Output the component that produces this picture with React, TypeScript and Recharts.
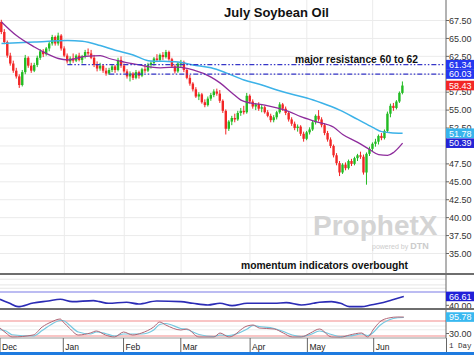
import React from "react";
import { ComposedChart, Bar, Line, XAxis, YAxis, CartesianGrid, ReferenceLine } from "recharts";

// daily candles, [open, high, low, close], one array per month
const decBars: number[][] = [
  [67.3, 67.6, 65.6, 65.9], [65.9, 66.3, 64.2, 64.5], [64.5, 64.7, 62.3, 62.6], [62.6, 63.0, 61.2, 61.5],
  [61.5, 61.9, 60.2, 60.5], [60.5, 60.9, 59.4, 59.7], [59.7, 60.0, 58.1, 58.5], [58.5, 60.6, 58.3, 60.3],
  [60.3, 62.7, 60.0, 62.3], [62.3, 62.5, 60.9, 61.2], [61.2, 61.6, 60.2, 60.5], [60.5, 61.6, 60.3, 61.3],
  [61.3, 62.6, 61.0, 62.3], [62.3, 63.5, 62.0, 63.2], [63.2, 63.5, 62.4, 62.8], [62.8, 63.8, 62.6, 63.6],
  [63.6, 64.6, 63.2, 64.3], [64.3, 65.5, 64.0, 65.2], [65.2, 65.4, 64.0, 64.3], [64.3, 65.8, 64.0, 65.4],
  [65.4, 65.6, 63.3, 63.6],
];
const janBars: number[][] = [
  [63.6, 63.9, 62.4, 62.6], [62.6, 62.9, 61.5, 61.8], [61.8, 62.5, 61.3, 62.2], [62.2, 62.9, 61.6, 61.9],
  [61.9, 62.8, 61.7, 62.6], [62.6, 63.0, 61.8, 62.0], [62.0, 62.7, 61.5, 62.5], [62.5, 63.4, 62.2, 63.1],
  [63.1, 63.6, 62.6, 62.9], [62.9, 63.4, 62.1, 62.3], [62.3, 62.7, 61.0, 61.3], [61.3, 61.8, 60.4, 60.8],
  [60.8, 61.6, 60.5, 61.2], [61.2, 61.4, 60.2, 60.5], [60.5, 60.9, 59.8, 60.1], [60.1, 60.9, 59.9, 60.6],
  [60.6, 61.4, 60.3, 61.1], [61.1, 61.3, 60.2, 60.6], [60.6, 62.3, 60.4, 62.0], [62.0, 62.5, 60.9, 61.2],
];
const febBars: number[][] = [
  [61.2, 61.5, 60.2, 60.4], [60.4, 60.7, 59.4, 59.7], [59.7, 60.4, 59.0, 60.1], [60.1, 60.3, 59.2, 59.5],
  [59.5, 60.6, 59.3, 60.3], [60.3, 60.5, 59.4, 59.8], [59.8, 60.9, 59.6, 60.7], [60.7, 61.3, 60.2, 60.5],
  [60.5, 61.6, 60.3, 61.3], [61.3, 61.8, 60.8, 61.6], [61.6, 62.4, 61.2, 62.2], [62.2, 62.8, 61.7, 62.0],
  [62.0, 62.9, 61.8, 62.7], [62.7, 63.1, 62.0, 62.4], [62.4, 63.4, 62.2, 63.1], [63.1, 63.3, 61.9, 62.1],
  [62.1, 62.3, 60.9, 61.1], [61.1, 61.4, 60.1, 60.4], [60.4, 61.7, 60.2, 61.5],
];
const marBars: number[][] = [
  [61.5, 62.0, 61.0, 61.7], [61.7, 61.9, 60.3, 60.6], [60.6, 60.8, 59.3, 59.5], [59.5, 59.9, 58.4, 58.7],
  [58.7, 58.9, 57.6, 57.9], [57.9, 58.2, 56.7, 56.9], [56.9, 57.5, 56.4, 57.2], [57.2, 57.4, 55.9, 56.1],
  [56.1, 56.5, 55.4, 55.7], [55.7, 56.9, 55.5, 56.6], [56.6, 57.4, 56.3, 57.1], [57.1, 57.9, 56.8, 57.6],
  [57.6, 58.0, 57.0, 57.3], [57.3, 57.8, 56.0, 56.3], [56.3, 56.5, 54.6, 54.9], [54.9, 55.1, 51.6, 52.4],
  [52.4, 53.6, 52.1, 53.4], [53.4, 54.2, 52.9, 53.9], [53.9, 54.5, 53.3, 53.7], [53.7, 54.9, 53.5, 54.6],
  [54.6, 55.3, 54.2, 54.9], [54.9, 55.6, 54.4, 54.7], [54.7, 57.4, 54.5, 57.0],
];
const aprBars: number[][] = [
  [57.0, 57.2, 55.9, 56.2], [56.2, 56.5, 55.2, 55.5], [55.5, 56.0, 55.0, 55.8], [55.8, 56.1, 54.9, 55.2],
  [55.2, 55.7, 54.7, 55.4], [55.4, 55.6, 54.5, 54.7], [54.7, 55.0, 54.0, 54.2], [54.2, 54.5, 53.3, 53.6],
  [53.6, 54.3, 53.3, 54.0], [54.0, 54.9, 53.7, 54.7], [54.7, 56.1, 54.5, 55.8], [55.8, 56.0, 54.9, 55.2],
  [55.2, 55.5, 54.3, 54.6], [54.6, 54.8, 53.4, 53.7], [53.7, 54.0, 52.8, 53.1], [53.1, 53.4, 52.2, 52.5],
  [52.5, 53.0, 52.0, 52.7], [52.7, 52.9, 51.4, 51.7], [51.7, 52.0, 50.6, 51.0],
];
const mayBars: number[][] = [
  [51.0, 52.1, 50.8, 51.9], [51.9, 52.6, 51.6, 52.3], [52.3, 53.5, 52.1, 53.3], [53.3, 54.4, 53.0, 54.2],
  [54.2, 55.0, 53.4, 53.7], [53.7, 54.0, 52.6, 52.9], [52.9, 53.2, 51.5, 51.8], [51.8, 52.1, 50.6, 50.9],
  [50.9, 51.2, 49.7, 50.0], [50.0, 50.2, 48.4, 48.7], [48.7, 49.0, 47.3, 47.6], [47.6, 47.9, 45.8, 46.3],
  [46.3, 47.6, 46.1, 47.4], [47.4, 47.7, 46.6, 46.9], [46.9, 48.1, 46.7, 47.9], [47.9, 48.2, 47.2, 47.5],
  [47.5, 48.5, 47.3, 48.3], [48.3, 48.9, 47.9, 48.7], [48.7, 49.2, 48.2, 48.5], [48.5, 48.8, 46.0, 46.3],
  [46.3, 49.1, 44.6, 48.9], [48.9, 49.9, 48.6, 49.6],
];
const junBars: number[][] = [
  [49.6, 50.5, 49.2, 50.3], [50.3, 51.0, 49.9, 50.6], [50.6, 51.6, 50.2, 51.4], [51.4, 51.8, 50.8, 51.1],
  [51.1, 52.3, 50.9, 52.1], [52.1, 54.8, 51.9, 54.5], [54.5, 55.9, 54.0, 55.6], [55.6, 56.0, 54.9, 55.3],
  [55.3, 56.4, 55.1, 56.2], [56.2, 57.6, 56.0, 57.4], [57.4, 59.0, 57.2, 58.43],
];

// moving averages, [day, value]
const maFast: number[][] = [
  [-1, 67.3], [4, 65.4], [10, 63.8], [14, 62.9], [18, 62.2], [21, 62.0], [27, 62.5], [32, 62.6],
  [35, 62.2], [40, 61.7], [45, 61.3], [49, 61.0], [52, 60.9], [58, 61.0], [63, 60.6], [69, 59.6],
  [72, 58.8], [76, 57.4], [79, 56.4], [82, 56.0], [87, 55.7], [91, 55.3], [95, 54.8], [99, 54.1],
  [104, 53.4], [110, 52.6], [113, 51.6], [118, 50.5], [122, 49.5], [125, 48.8], [128, 48.7],
  [130, 49.1], [133, 50.39],
];
const maSlow: number[][] = [
  [-1, 64.3], [10, 64.5], [21, 64.7], [26, 64.6], [32, 64.0], [37, 63.35], [43, 62.7], [48, 61.9],
  [58, 61.7], [63, 61.3], [69, 60.9], [74, 60.2], [80, 59.2], [86, 58.5], [91, 57.8], [97, 57.1],
  [101, 56.7], [106, 56.0], [112, 55.0], [118, 53.7], [123, 52.6], [126, 52.0], [129, 51.85], [133, 51.78],
];

// momentum panel
const rsiPts: number[][] = [
  [-1, 58], [2, 47], [5, 36], [10, 47], [15, 53], [19, 58], [23, 51], [30, 54], [32, 51], [35, 46],
  [41, 49], [45, 44], [51, 53], [59, 51], [63, 46], [68, 41], [72, 46], [76, 39], [81, 46], [85, 46],
  [90, 46], [94, 48], [99, 41], [103, 46], [105, 49], [109, 51], [112, 46], [115, 36], [119, 36],
  [122, 41], [125, 46], [129, 56], [133, 66.61],
];
// stochastics panel
const stochK: number[][] = [
  [-1, 52], [1, 32], [3, 16], [10, 24], [13, 56], [16, 76], [19, 88], [20, 76], [22, 52], [25, 24],
  [29, 32], [31, 40], [34, 24], [37, 16], [40, 36], [43, 24], [46, 32], [50, 56], [52, 76], [54, 64],
  [59, 44], [61, 48], [65, 16], [70, 16], [72, 32], [75, 16], [81, 60], [83, 64], [85, 52], [90, 48],
  [93, 32], [96, 16], [99, 16], [102, 32], [105, 48], [109, 16], [112, 15], [115, 24], [119, 32],
  [121, 16], [123, 48], [125, 76], [128, 92], [131, 96], [133, 95.78],
];
const stochD: number[][] = [
  [-1, 45], [1, 40], [3, 25], [10, 20], [13, 42], [16, 66], [19, 82], [20, 82], [22, 64], [25, 36],
  [29, 28], [31, 36], [34, 30], [37, 20], [40, 28], [43, 28], [46, 28], [50, 44], [52, 66], [54, 70],
  [59, 50], [61, 46], [65, 26], [70, 18], [72, 24], [75, 22], [81, 48], [83, 62], [85, 58], [90, 50],
  [93, 38], [96, 24], [99, 18], [102, 26], [105, 40], [109, 26], [112, 18], [115, 20], [119, 28],
  [121, 22], [123, 36], [125, 62], [128, 84], [131, 93], [133, 94],
];

const monthNames = ["Dec", "Jan", "Feb", "Mar", "Apr", "May", "Jun"];
const monthStart = [-1, 20, 40, 59, 82, 101, 123];

const gridTicks = [35, 37.5, 40, 42.5, 45, 47.5, 50, 52.5, 55, 57.5, 60, 62.5, 65, 67.5];
// 50.00 and 60.00 sit fully under the value badges
const priceTicks = [35, 37.5, 40, 42.5, 45, 47.5, 52.5, 55, 57.5, 62.5, 65, 67.5];
const priceBadges = [61.34, 60.03, 58.43, 51.78, 50.39];
const resistance = [61.34, 60.03];
const resistanceFrom = [21, 35];

const FIRST = -1;
const LAST_SLOT = 147;

// styles
const FONT = "'Liberation Sans', Arial, sans-serif";
const UP = "#22bb22";
const DOWN = "#f22626";
const GRID = "#ebebeb";
const badgeColors = ["#2438f0", "#2438f0", "#f22626", "#38b4ec", "#2424d6"];

const allBars = [...decBars, ...janBars, ...febBars, ...marBars, ...aprBars, ...mayBars, ...junBars];
const slots: number[] = [];
for (let d = FIRST; d <= LAST_SLOT; d++) slots.push(d);

const priceData: any[] = slots.map((d) => {
  const row: any = { d };
  const b = allBars[d - FIRST];
  if (b) {
    row.o = b[0];
    row.h = b[1];
    row.l = b[2];
    row.c = b[3];
    row.range = [b[2], b[1]];
  }
  return row;
});
maFast.forEach(([d, v]) => (priceData[d - FIRST].fast = v));
maSlow.forEach(([d, v]) => (priceData[d - FIRST].slow = v));

const subData: any[] = slots.map((d) => ({ d }));
rsiPts.forEach(([d, v]) => (subData[d - FIRST].rsi = v));
stochK.forEach(([d, v]) => (subData[d - FIRST].k = v));
stochD.forEach(([d, v]) => (subData[d - FIRST].sd = v));

const Candle = (props: any) => {
  const { x, y, width, height, payload } = props;
  if (!payload || payload.h == null) return null;
  const top = Math.min(y, y + height);
  const hh = Math.abs(height);
  const ppu = hh / (payload.h - payload.l || 1);
  const cx = x + width / 2;
  const yo = top + (payload.h - payload.o) * ppu;
  const yc = top + (payload.h - payload.c) * ppu;
  const col = payload.c >= payload.o ? UP : DOWN;
  return (
    <g>
      <line x1={cx} x2={cx} y1={top} y2={top + hh} stroke={col} strokeWidth={1} />
      <rect x={cx - 1.2} y={Math.min(yo, yc)} width={2.4} height={Math.max(1, Math.abs(yc - yo))} fill={col} />
    </g>
  );
};

const noDot = () => <g />;

const makeTick = (badges: number[], colors: string[]) => (props: any) => {
  const { x, y, payload } = props;
  const v = payload.value;
  const k = badges.indexOf(v);
  if (k >= 0) {
    return (
      <g>
        <rect x={x - 3} y={y - 4.8} width={29} height={9.6} fill={colors[k]} />
        <text x={x} y={y + 3.3} fill="#fff" fontSize={9} fontFamily={FONT}>{v.toFixed(2)}</text>
      </g>
    );
  }
  return (
    <text x={x} y={y + 3.3} fill="#333" fontSize={9} fontFamily={FONT}>{v.toFixed(2)}</text>
  );
};

const PriceTick = makeTick(priceBadges, badgeColors);
const RsiTick = makeTick([66.61], ["#2020d8"]);
const StochTick = makeTick([95.78], ["#38b8f0"]);

const MonthTick = (props: any) => {
  const { x, y, payload } = props;
  const i = monthStart.indexOf(payload.value);
  return (
    <g>
      <line x1={x} x2={x} y1={y} y2={y + 14} stroke="#666" strokeWidth={1} />
      <text x={x + 2} y={y + 11.5} fill="#222" fontSize={8.5} fontFamily={FONT}>{monthNames[i]}</text>
    </g>
  );
};

const App = () => {
  return (
    <div style={{ position: "absolute", left: 0, top: 0, width: 474, height: 355, background: "#fff", overflow: "hidden" }}>
      <style>{"svg.recharts-surface { overflow: visible; }"}</style>
      <div style={{ position: "absolute", left: 0, top: 0 }}>
        <ComposedChart width={474} height={273} data={priceData} margin={{ top: 0, right: 0, bottom: 0, left: 0 }}>
          <CartesianGrid stroke={GRID} horizontalValues={gridTicks} verticalValues={monthStart} />
          <XAxis dataKey="d" type="category" hide />
          <YAxis
            orientation="right"
            width={28}
            type="number"
            domain={[32.28, 70.36]}
            allowDataOverflow
            ticks={[...priceTicks, ...priceBadges]}
            interval={0}
            tickSize={3}
            tickMargin={0}
            axisLine={{ stroke: "#666" }}
            tickLine={{ stroke: "#666" }}
            tick={PriceTick}
          />
          <Bar dataKey="range" shape={Candle} isAnimationActive={false} />
          <Line dataKey="slow" type="monotone" stroke="#3cb2e8" strokeWidth={1.5} dot={noDot} activeDot={false} connectNulls isAnimationActive={false} />
          <Line dataKey="fast" type="monotone" stroke="#8e2c9c" strokeWidth={1.3} dot={noDot} activeDot={false} connectNulls isAnimationActive={false} />
          {resistance.map((v, i) => (
            <ReferenceLine
              key={v}
              segment={[{ x: resistanceFrom[i], y: v }, { x: LAST_SLOT, y: v }]}
              stroke="#3535c8"
              strokeWidth={1.2}
              strokeDasharray="5 2 1.5 2 1.5 2"
            />
          ))}
        </ComposedChart>
      </div>
      <div style={{ position: "absolute", left: 0, top: 273, width: 474, height: 2, background: "#6e6e6e" }} />
      <div style={{ position: "absolute", left: 0, top: 275 }}>
        <ComposedChart width={474} height={33} data={subData} margin={{ top: 0, right: 0, bottom: 0, left: 0 }}>
          <XAxis dataKey="d" type="category" hide />
          <YAxis
            orientation="right"
            width={28}
            type="number"
            domain={[32, 130.6]}
            allowDataOverflow
            ticks={[40, 66.61]}
            interval={0}
            tickSize={3}
            tickMargin={0}
            axisLine={{ stroke: "#666" }}
            tickLine={{ stroke: "#666" }}
            tick={RsiTick}
          />
          <ReferenceLine y={118} stroke="#e6e6e6" />
          <ReferenceLine y={101} stroke="#e6e6e6" />
          <ReferenceLine y={91} stroke="#e6e6e6" />
          <ReferenceLine y={80} stroke="#a6a6ee" strokeWidth={1.5} />
          <Line dataKey="rsi" type="monotone" stroke="#2b2bb5" strokeWidth={1.6} dot={noDot} activeDot={false} connectNulls isAnimationActive={false} />
        </ComposedChart>
      </div>
      <div style={{ position: "absolute", left: 0, top: 308, width: 474, height: 2, background: "#6e6e6e" }} />
      <div style={{ position: "absolute", left: 0, top: 310 }}>
        <ComposedChart width={474} height={42} data={subData} margin={{ top: 0, right: 0, bottom: 0, left: 0 }}>
          <XAxis
            dataKey="d"
            type="category"
            height={14}
            ticks={monthStart}
            interval={0}
            tickLine={false}
            tickSize={0}
            tickMargin={0}
            axisLine={{ stroke: "#999" }}
            tick={MonthTick}
          />
          <YAxis
            orientation="right"
            width={28}
            type="number"
            domain={[12, 124]}
            allowDataOverflow
            ticks={[30, 95.78]}
            interval={0}
            tickSize={3}
            tickMargin={0}
            axisLine={{ stroke: "#666" }}
            tickLine={{ stroke: "#666" }}
            tick={StochTick}
          />
          <ReferenceLine y={60} stroke="#ececec" />
          <ReferenceLine y={45} stroke="#ececec" />
          <ReferenceLine y={80} stroke="#f28b8b" />
          <ReferenceLine y={20} stroke="#f28b8b" />
          <Line dataKey="sd" type="monotone" stroke="#74c8e0" strokeWidth={1.2} dot={noDot} activeDot={false} connectNulls isAnimationActive={false} />
          <Line dataKey="k" type="monotone" stroke="#b06676" strokeWidth={1} dot={noDot} activeDot={false} connectNulls isAnimationActive={false} />
        </ComposedChart>
      </div>
      <div style={{ position: "absolute", left: 0, top: 352, width: 474, height: 3, background: "#1e7be0" }} />
      <svg width={474} height={355} style={{ position: "absolute", left: 0, top: 0, pointerEvents: "none" }}>
        <text x={276.5} y={17} textAnchor="middle" fontFamily={FONT} fontWeight="bold" fontSize={13} fill="#111">July Soybean Oil</text>
        <text x={295} y={62.5} fontFamily={FONT} fontWeight="bold" fontSize={10.3} fill="#111">major resistance 60 to 62</text>
        <text x={241} y={269} fontFamily={FONT} fontWeight="bold" fontSize={10.3} fill="#111">momentum indicators overbought</text>
        <text x={313} y={235} fontFamily={FONT} fontWeight="bold" fontSize={28} fill="#d4d4d4">ProphetX</text>
        <text x={372} y={249} fontFamily={FONT} fontSize={7} fill="#cccccc">
          powered by <tspan fontWeight="bold" fontSize={9}>DTN</tspan>
        </text>
        <line x1={446.5} x2={446.5} y1={338} y2={352} stroke="#666" />
        <text x={449} y={348} fontFamily="'Liberation Mono', monospace" fontSize={7.5} fill="#333">1 Day</text>
      </svg>
    </div>
  );
};

export default App;
